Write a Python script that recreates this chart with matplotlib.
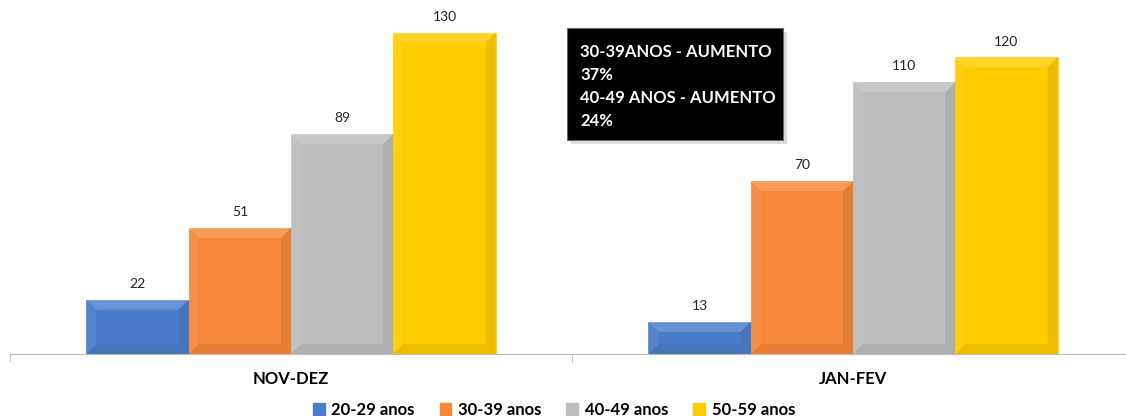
import numpy as np
import matplotlib
matplotlib.use('Agg')
import matplotlib.pyplot as plt
from matplotlib.patches import Polygon, Patch, FancyBboxPatch

plt.rcParams['font.family'] = ['Lato', 'DejaVu Sans']

# dados
periodos = ['NOV-DEZ', 'JAN-FEV']
faixas = ['20-29 anos', '30-39 anos', '40-49 anos', '50-59 anos']
valores = {
    '20-29 anos': [22, 13],
    '30-39 anos': [51, 70],
    '40-49 anos': [89, 110],
    '50-59 anos': [130, 120],
}
cores = ['#4A7DC9', '#F7883A', '#BDBDBD', '#FFCC00']
nota = '30-39ANOS - AUMENTO\n37%\n40-49 ANOS - AUMENTO\n24%'

fig = plt.figure(figsize=(11.26, 4.16), dpi=100)
ax = fig.add_axes([10 / 1126, 62 / 416, 1124 / 1126, 346 / 416])

x = np.arange(len(periodos))
largura = 0.182
barras = []
for i, (faixa, cor) in enumerate(zip(faixas, cores)):
    pos = x + (i - 1.5) * largura
    b = ax.bar(pos, valores[faixa], largura, color=cor, edgecolor=cor, linewidth=0.5, zorder=2)
    barras.append(b)
    for p, v in zip(pos, valores[faixa]):
        ax.text(p, v + 4, str(v), ha='center', va='bottom', fontsize=10, color='#222222')

ax.set_xlim(-0.5, 1.5)
ax.set_ylim(0, 140)

# efeito de bisel nas barras (mais suave)
fig.canvas.draw()
inv = ax.transData.inverted()
px = inv.transform((10, 0))[0] - inv.transform((0, 0))[0]
py = inv.transform((0, 10))[1] - inv.transform((0, 0))[1]
for b in barras:
    for r in b.patches:
        x0, y0 = r.get_x(), r.get_y()
        x1, y1 = x0 + r.get_width(), y0 + r.get_height()
        dy = min(py, r.get_height() / 2)
        dx = px
        faces = [
            ([(x0, y1), (x1, y1), (x1 - dx, y1 - dy), (x0 + dx, y1 - dy)], 'white', 0.16),
            ([(x0, y0), (x1, y0), (x1 - dx, y0 + dy), (x0 + dx, y0 + dy)], 'black', 0.07),
            ([(x0, y0), (x0, y1), (x0 + dx, y1 - dy), (x0 + dx, y0 + dy)], 'white', 0.06),
            ([(x1, y0), (x1, y1), (x1 - dx, y1 - dy), (x1 - dx, y0 + dy)], 'black', 0.07),
        ]
        for pts, c, a in faces:
            ax.add_patch(Polygon(pts, closed=True, facecolor=c, alpha=a, edgecolor='none', zorder=3))

ax.set_xticks(x)
ax.set_xticklabels(periodos, fontsize=12, fontweight='bold')
ax.set_xticks([-0.5, 0.5, 1.5], minor=True)
ax.tick_params(axis='x', which='major', length=0, pad=12)
ax.tick_params(axis='x', which='minor', length=6, color='#BBBBBB')
ax.set_yticks([])
for s in ['top', 'right', 'left']:
    ax.spines[s].set_visible(False)
ax.spines['bottom'].set_color('#BBBBBB')

# caixa de anotação
sombra = FancyBboxPatch((571, 272), 216, 112, boxstyle='square,pad=0', transform=None,
                        facecolor='#AAAAAA', edgecolor='none', alpha=0.4, zorder=4)
caixa = FancyBboxPatch((567, 276), 216, 112, boxstyle='square,pad=0', transform=None,
                       facecolor='black', edgecolor='#666666', linewidth=0.8, zorder=5)
fig.patches.extend([sombra, caixa])
fig.text(580 / 1126, 1 - 44 / 416, nota, color='white', fontsize=12, fontweight='bold',
         va='top', ha='left', linespacing=1.55, zorder=6)

handles = [Patch(facecolor=c, edgecolor=c) for c in cores]
fig.legend(handles, faixas, loc='lower center', bbox_to_anchor=(0.492, -0.04), ncol=4,
           frameon=False, prop={'weight': 'bold', 'size': 12}, handlelength=0.7,
           handleheight=0.7, columnspacing=1.5, handletextpad=0.4)

fig.savefig('out.png', dpi=100)
